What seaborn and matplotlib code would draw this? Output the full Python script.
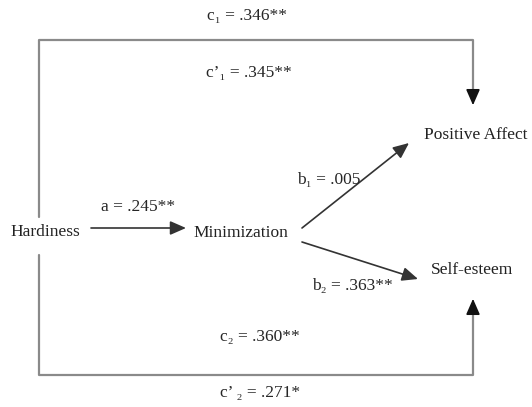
import numpy as np
import matplotlib
matplotlib.use('Agg')
import matplotlib.pyplot as plt
import seaborn as sns

# nodes of the mediation model and the path coefficients
nodes = ['Hardiness', 'Minimization', 'Positive Affect', 'Self-esteem']
paths = ['a', 'b\u2081', 'b\u2082', 'c\u2081', 'c\u2019\u2081', 'c\u2082', 'c\u2019 \u2082']
coefs = ['.245**', '.005', '.363**', '.346**', '.345**', '.360**', '.271*']

sns.set_theme(style='white')
plt.rcParams['font.family'] = ['Liberation Serif', 'DejaVu Serif']

fig, ax = plt.subplots(figsize=(5.32, 4.07), dpi=100)
fig.subplots_adjust(0, 0, 1, 1)
ax.set_xlim(0, 532)
ax.set_ylim(407, 0)
ax.axis('off')

fs = 12.5
gray = '#8a8a8a'

# node labels
node_pos = {'Hardiness': (45, 232), 'Minimization': (241, 233),
            'Positive Affect': (476, 135), 'Self-esteem': (472, 270)}
for n in nodes:
    ax.text(*node_pos[n], n, ha='center', va='center', fontsize=fs, color='#222222')

lab = {p: f'{p} = {c}' for p, c in zip(paths, coefs)}

# outer box lines (direct effects)
ax.plot([39, 39, 473, 473], [217, 40, 40, 98], color=gray, lw=1.6)
ax.plot([39, 39, 473, 473], [255, 375, 375, 305], color=gray, lw=1.6)
arr = dict(arrowstyle='-|>,head_length=0.8,head_width=0.35', color='#111111', lw=1.2)
ax.annotate('', xy=(473, 108), xytext=(473, 96), arrowprops=arr)
ax.annotate('', xy=(473, 296), xytext=(473, 307), arrowprops=arr)

# indirect paths
arr2 = dict(arrowstyle='-|>,head_length=0.8,head_width=0.35', color='#333333', lw=1.2,
            shrinkA=0, shrinkB=0)
ax.annotate('', xy=(186, 228), xytext=(91, 228), arrowprops=arr2)
ax.annotate('', xy=(409, 143), xytext=(302, 228), arrowprops=arr2)
ax.annotate('', xy=(418, 279), xytext=(302, 242), arrowprops=arr2)

# coefficient labels
ax.text(138, 207, lab['a'], ha='center', va='center', fontsize=fs)
ax.text(329, 180, lab['b\u2081'], ha='center', va='center', fontsize=fs)
ax.text(352, 286, lab['b\u2082'], ha='center', va='center', fontsize=fs)
ax.text(247, 16, lab['c\u2081'], ha='center', va='center', fontsize=fs)
ax.text(249, 73, lab['c\u2019\u2081'], ha='center', va='center', fontsize=fs)
ax.text(260, 337, lab['c\u2082'], ha='center', va='center', fontsize=fs)
ax.text(260, 393, lab['c\u2019 \u2082'], ha='center', va='center', fontsize=fs)

fig.savefig('out.png', dpi=100, facecolor='white')
